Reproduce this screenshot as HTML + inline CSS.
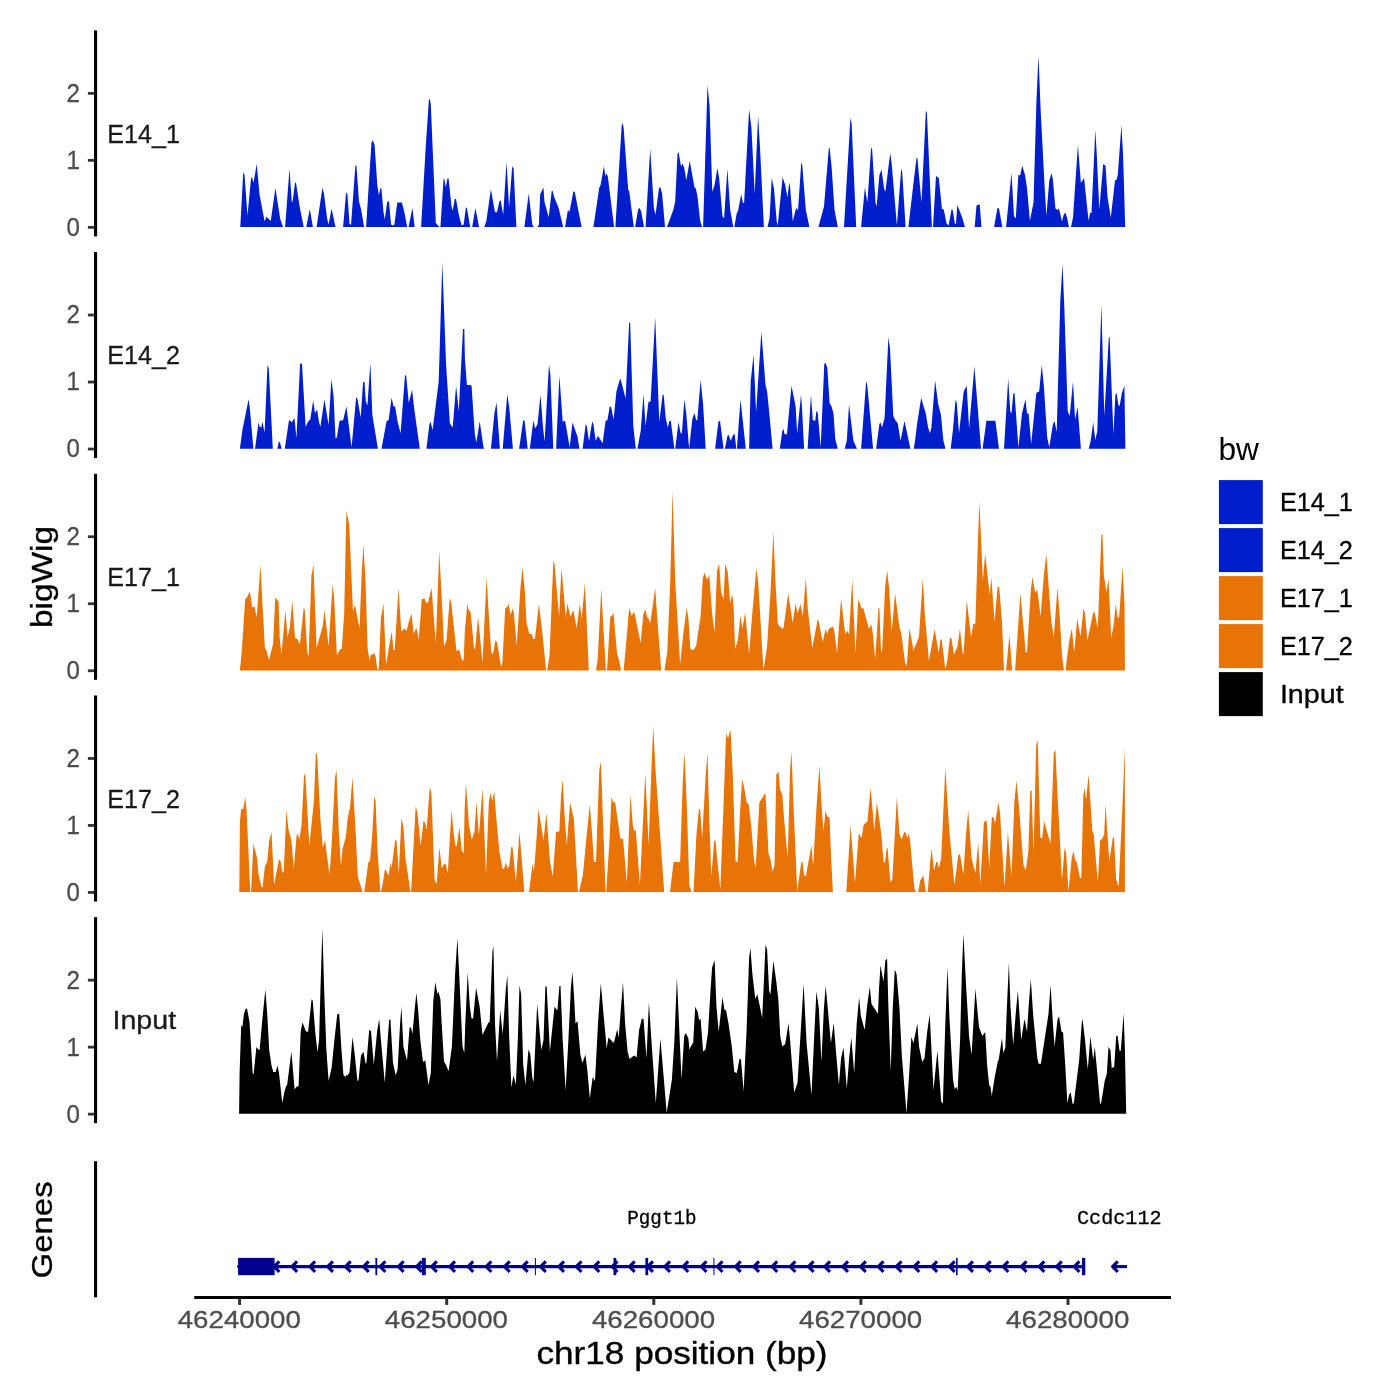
<!DOCTYPE html>
<html><head><meta charset="utf-8"><title>bigWig tracks</title>
<style>html,body{margin:0;padding:0;background:#fff;}svg{display:block;}text{font-family:"Liberation Sans",sans-serif;}.mono{font-family:"Liberation Mono",monospace;}</style>
</head><body>
<svg width="1400" height="1400" viewBox="0 0 1400 1400" style="filter:opacity(1)">
<rect x="0" y="0" width="1400" height="1400" fill="#ffffff"/>
<g id="track1">
<path d="M240.3,227.0 L240.3,227.0 L243.2,172.8 L244.5,174.5 L247.5,215.5 L251.1,177.8 L252.1,177.8 L253.4,182.7 L255.0,174.5 L256.7,163.8 L259.6,195.0 L264.6,221.3 L266.5,216.8 L270.8,221.0 L275.4,188.1 L280.2,218.8 L283.0,227.0 L285.1,227.0 L289.5,168.7 L291.7,200.8 L292.5,202.4 L295.1,182.2 L296.1,183.5 L299.9,208.1 L303.7,227.0 L306.3,227.0 L309.8,209.0 L312.9,227.0 L316.6,227.0 L322.4,188.1 L324.0,193.4 L327.0,218.0 L328.6,224.6 L331.6,208.5 L335.5,227.0 L343.1,227.0 L346.1,192.5 L347.4,194.2 L349.5,223.8 L351.0,224.9 L355.4,165.4 L356.4,165.4 L359.0,201.6 L361.2,209.8 L364.1,227.0 L366.1,227.0 L371.4,143.2 L372.7,140.0 L374.6,144.9 L377.3,185.1 L378.9,195.0 L380.6,187.6 L381.5,189.2 L383.4,211.4 L384.8,219.6 L387.1,202.4 L388.9,200.8 L391.1,224.6 L393.0,225.4 L394.4,224.6 L397.3,202.4 L401.9,202.4 L404.2,211.4 L407.2,227.0 L408.5,227.0 L412.4,208.1 L414.7,227.0 L421.1,227.0 L425.6,149.0 L428.9,99.7 L429.8,98.9 L430.8,104.6 L435.8,222.9 L438.7,226.2 L439.5,227.0 L440.4,227.0 L443.6,178.6 L444.5,179.4 L445.8,187.6 L447.4,178.6 L448.6,178.6 L451.5,206.5 L452.7,210.6 L454.8,199.1 L456.0,199.1 L458.8,214.7 L461.7,225.4 L463.7,224.6 L465.9,207.3 L466.9,208.1 L470.2,227.0 L472.2,227.0 L475.4,208.1 L479.1,227.0 L484.3,227.0 L486.3,221.3 L490.9,189.2 L495.0,212.2 L497.0,212.2 L499.4,201.6 L500.6,199.9 L503.2,214.7 L506.5,162.1 L509.1,207.3 L512.2,166.2 L513.6,168.7 L516.4,227.0 L524.4,227.0 L528.7,193.4 L532.3,224.6 L533.9,227.0 L537.5,227.0 L538.9,224.6 L540.2,194.2 L543.5,187.6 L544.4,201.6 L548.7,217.2 L551.7,190.9 L552.7,190.9 L554.0,196.6 L558.6,208.1 L563.2,227.0 L565.1,227.0 L567.8,210.6 L568.4,210.3 L569.4,212.2 L573.4,191.4 L574.7,191.7 L581.6,227.0 L593.4,227.0 L599.3,187.6 L600.6,185.1 L603.9,166.2 L605.4,176.1 L606.7,173.6 L607.9,176.9 L614.1,227.0 L615.4,227.0 L621.7,125.2 L622.5,123.0 L623.6,127.6 L628.2,190.1 L629.2,190.9 L633.8,227.0 L635.1,227.0 L638.1,209.8 L639.4,207.8 L641.2,211.4 L644.0,227.0 L645.6,227.0 L650.2,149.0 L653.9,208.1 L655.5,214.7 L659.1,187.6 L660.4,187.6 L662.1,193.4 L665.0,227.0 L667.0,227.0 L673.6,209.0 L675.2,201.6 L677.5,153.9 L678.5,151.8 L681.0,166.2 L682.6,163.5 L684.2,167.9 L686.4,180.2 L689.7,160.8 L694.5,187.6 L695.8,188.4 L697.5,196.6 L700.1,220.5 L702.2,227.0 L703.1,227.0 L707.5,84.9 L709.6,106.3 L712.3,191.7 L714.6,185.1 L717.4,167.9 L719.2,178.6 L722.5,216.4 L724.1,218.0 L727.4,168.7 L730.2,209.8 L733.3,227.0 L734.3,227.0 L736.8,213.1 L737.9,211.4 L741.2,194.2 L742.8,202.4 L744.1,203.2 L749.1,109.6 L751.4,127.6 L754.7,193.4 L758.1,116.1 L759.9,145.7 L763.9,227.0 L767.5,227.0 L769.6,218.0 L771.7,178.2 L774.0,188.4 L776.7,221.3 L777.7,225.4 L782.6,177.3 L785.2,185.1 L787.5,197.5 L789.2,182.7 L790.1,186.8 L792.8,221.3 L796.2,207.8 L798.0,210.6 L801.3,162.1 L802.3,165.4 L805.8,209.8 L809.4,227.0 L818.4,227.0 L820.0,221.3 L824.0,206.5 L828.8,148.2 L829.6,147.7 L831.5,165.4 L834.5,209.8 L837.8,227.0 L844.0,227.0 L850.4,118.6 L851.6,122.7 L856.2,227.0 L861.1,227.0 L864.9,187.6 L867.4,202.4 L871.1,147.7 L872.1,149.0 L875.6,203.2 L876.6,206.5 L879.4,175.3 L881.5,169.5 L884.1,188.4 L885.4,191.7 L890.2,153.1 L891.7,163.8 L896.9,225.4 L901.2,168.4 L902.2,172.0 L905.6,227.0 L908.4,227.0 L914.7,172.8 L916.6,157.5 L917.4,158.3 L921.5,202.6 L925.9,110.6 L926.9,113.1 L931.9,227.0 L933.0,227.0 L936.0,176.0 L938.8,178.0 L942.0,209.2 L943.7,209.2 L946.5,223.2 L948.6,225.6 L951.6,209.2 L952.7,210.0 L954.9,223.7 L956.0,223.7 L957.3,205.1 L962.2,217.4 L964.9,227.0 L974.7,227.0 L976.5,205.6 L979.7,204.3 L981.5,227.0 L994.1,227.0 L997.4,207.9 L999.0,208.4 L1002.3,227.0 L1006.1,227.0 L1011.5,173.1 L1014.0,216.6 L1015.8,218.2 L1018.4,174.7 L1020.1,175.5 L1022.2,165.7 L1025.0,174.7 L1027.0,187.9 L1029.9,220.7 L1033.5,202.6 L1036.5,99.1 L1038.5,55.6 L1040.6,109.0 L1044.7,187.9 L1046.4,215.8 L1049.3,180.5 L1051.6,173.1 L1052.9,179.6 L1055.4,208.4 L1057.5,210.0 L1058.5,208.4 L1059.8,211.7 L1062.0,221.5 L1063.6,215.0 L1065.4,212.5 L1067.4,219.1 L1068.9,227.0 L1071.0,227.0 L1073.0,217.4 L1077.9,145.1 L1080.9,182.9 L1084.1,178.0 L1086.1,197.7 L1088.6,220.7 L1090.2,212.5 L1091.5,213.3 L1095.3,130.0 L1096.8,155.0 L1099.3,209.2 L1103.2,164.0 L1105.5,165.7 L1107.6,197.7 L1110.8,217.4 L1115.0,180.5 L1116.7,179.6 L1117.8,174.7 L1121.4,125.4 L1123.1,155.0 L1125.2,227.0 L1125.2,227.0Z" fill="#001ECC" stroke="none"/>
<line x1="95.55" y1="30.4" x2="95.55" y2="236.4" stroke="#000" stroke-width="3.1"/>
<line x1="87.9" y1="227.35" x2="94.2" y2="227.35" stroke="#333" stroke-width="2.8"/>
<text x="79.8" y="235.70" font-size="24.9" fill="#4D4D4D" stroke="#4D4D4D" stroke-width="0.3" text-anchor="end" textLength="13.4" lengthAdjust="spacingAndGlyphs">0</text>
<line x1="87.9" y1="160.35" x2="94.2" y2="160.35" stroke="#333" stroke-width="2.8"/>
<text x="79.8" y="168.70" font-size="24.9" fill="#4D4D4D" stroke="#4D4D4D" stroke-width="0.3" text-anchor="end" textLength="13.4" lengthAdjust="spacingAndGlyphs">1</text>
<line x1="87.9" y1="93.35" x2="94.2" y2="93.35" stroke="#333" stroke-width="2.8"/>
<text x="79.8" y="101.70" font-size="24.9" fill="#4D4D4D" stroke="#4D4D4D" stroke-width="0.3" text-anchor="end" textLength="13.4" lengthAdjust="spacingAndGlyphs">2</text>
<text x="143.55" y="142.7" font-size="25.0" fill="#1A1A1A" stroke="#1A1A1A" stroke-width="0.3" text-anchor="middle" textLength="72.6" lengthAdjust="spacingAndGlyphs">E14_1</text>
</g>
<g id="track2">
<path d="M239.9,448.7 L239.9,448.7 L242.4,430.0 L248.6,399.3 L249.8,407.9 L253.4,448.7 L255.0,448.7 L258.5,422.6 L259.6,426.8 L261.3,427.2 L262.4,421.8 L264.6,432.5 L267.5,365.1 L268.8,368.4 L272.8,448.7 L277.4,448.7 L278.7,442.0 L279.7,442.0 L281.8,448.7 L284.8,448.7 L288.9,420.7 L289.9,420.2 L291.7,422.6 L294.5,418.0 L296.4,438.2 L300.1,363.5 L302.0,363.8 L305.6,426.8 L308.6,420.7 L310.2,419.7 L313.2,400.5 L315.0,413.1 L317.1,409.5 L319.1,422.6 L320.4,426.8 L324.4,399.6 L328.6,425.1 L331.4,379.1 L333.6,396.4 L335.5,438.2 L336.9,437.4 L339.5,420.7 L343.1,420.2 L346.4,406.5 L351.6,447.3 L356.2,396.7 L357.6,399.6 L360.7,417.7 L363.1,381.9 L364.5,381.9 L365.8,401.3 L367.4,405.4 L370.4,362.7 L372.3,414.4 L377.9,448.7 L381.5,448.7 L386.6,421.0 L388.6,420.2 L391.6,397.7 L393.5,406.2 L395.2,406.7 L397.6,421.8 L400.6,433.3 L405.0,375.0 L406.2,375.8 L408.8,402.9 L412.1,389.8 L414.1,407.9 L419.8,448.7 L426.4,448.7 L429.4,424.3 L430.5,421.8 L432.6,430.0 L438.7,381.6 L442.3,262.5 L446.1,365.1 L449.9,423.5 L452.7,427.6 L456.1,385.7 L458.8,411.1 L463.0,329.0 L464.3,329.0 L464.9,358.6 L466.9,384.9 L471.5,385.2 L474.8,434.1 L476.4,442.4 L479.7,421.3 L483.5,447.3 L484.6,448.7 L490.9,448.7 L494.5,412.8 L496.5,402.6 L499.9,448.7 L502.7,448.7 L507.3,393.9 L509.3,407.9 L512.9,448.7 L519.1,448.7 L523.2,420.2 L524.6,420.7 L527.7,448.7 L529.8,448.7 L533.4,420.2 L535.1,428.4 L537.5,424.3 L540.5,394.7 L543.0,427.6 L544.6,441.5 L549.0,364.3 L550.4,375.0 L553.3,448.7 L556.1,448.7 L559.4,375.8 L562.7,421.8 L565.1,420.7 L569.7,447.3 L572.5,422.6 L577.5,436.6 L579.4,448.7 L582.6,448.7 L585.7,424.3 L586.8,425.9 L589.0,441.5 L592.2,421.3 L593.4,424.3 L595.7,440.7 L598.0,435.8 L602.6,443.2 L605.6,420.7 L607.4,420.2 L609.8,406.2 L611.1,407.0 L613.6,419.4 L616.4,391.4 L620.2,378.3 L622.6,386.5 L625.6,398.8 L629.2,322.1 L630.2,323.2 L633.3,425.9 L635.8,448.7 L637.4,448.7 L640.7,430.9 L643.5,393.9 L645.6,425.9 L648.4,402.3 L650.6,401.6 L655.2,317.2 L659.3,421.8 L662.6,394.7 L663.7,395.0 L665.7,417.7 L667.8,427.6 L669.5,420.7 L670.8,421.0 L674.4,448.7 L675.2,448.7 L678.5,422.3 L680.5,432.5 L681.8,434.1 L684.4,399.3 L686.4,414.4 L688.7,444.0 L689.1,448.7 L692.4,418.5 L694.5,413.1 L696.2,420.2 L697.3,420.2 L700.6,379.9 L703.1,404.6 L705.7,448.7 L715.1,448.7 L718.4,421.8 L720.0,420.7 L723.6,448.7 L724.9,448.7 L727.7,435.0 L728.7,435.0 L730.7,440.7 L733.1,435.0 L734.6,433.8 L736.3,448.7 L736.9,448.7 L740.5,399.6 L745.8,448.7 L749.1,448.7 L750.7,381.6 L753.5,355.0 L756.1,412.0 L761.4,331.5 L765.5,384.9 L767.1,391.4 L768.8,407.9 L772.6,448.7 L779.8,448.7 L782.3,430.9 L783.6,428.9 L784.4,434.1 L786.9,434.5 L791.5,385.7 L795.6,406.2 L797.2,433.3 L801.0,394.7 L802.0,407.9 L804.1,448.7 L807.6,448.7 L811.0,394.7 L812.8,420.2 L815.3,420.7 L816.4,410.8 L817.7,412.8 L820.7,447.3 L824.3,363.8 L825.5,363.0 L827.3,367.6 L829.6,402.9 L831.5,406.2 L833.5,413.6 L835.3,439.1 L837.8,448.7 L844.7,448.7 L846.8,440.7 L849.0,404.6 L853.4,440.7 L857.0,448.7 L861.1,448.7 L866.2,380.8 L867.4,386.5 L873.1,448.7 L876.1,448.7 L879.4,424.0 L880.5,422.6 L882.1,427.6 L884.6,417.7 L888.4,337.2 L890.0,348.7 L893.3,416.1 L895.3,420.2 L897.8,423.5 L900.5,440.7 L904.5,421.0 L910.4,448.7 L913.7,448.7 L914.8,442.4 L917.4,421.8 L921.2,397.7 L923.8,407.0 L925.8,413.6 L928.1,427.6 L930.0,433.3 L931.4,427.6 L935.1,380.4 L938.3,404.6 L940.9,414.4 L943.4,440.7 L945.5,448.7 L950.7,448.7 L953.0,429.2 L955.5,400.0 L956.8,402.9 L959.0,433.3 L963.7,391.4 L966.7,385.7 L969.1,428.4 L974.4,366.5 L981.0,448.7 L982.6,448.7 L986.4,420.7 L995.4,420.7 L999.0,448.7 L1004.0,448.7 L1008.2,378.6 L1010.2,411.1 L1011.5,413.6 L1013.2,393.9 L1014.5,392.7 L1018.4,447.3 L1022.0,413.6 L1025.5,399.3 L1027.0,413.6 L1028.6,413.6 L1031.2,444.0 L1036.2,393.9 L1037.3,391.9 L1039.1,391.8 L1041.8,365.1 L1043.9,386.5 L1047.2,437.4 L1049.3,447.3 L1052.9,424.3 L1054.6,421.3 L1056.7,431.7 L1060.3,301.1 L1062.5,264.1 L1064.4,309.3 L1067.7,411.1 L1069.7,416.1 L1073.0,381.6 L1075.1,419.4 L1077.6,407.0 L1080.9,448.7 L1088.7,448.7 L1090.7,440.7 L1093.2,422.6 L1095.3,439.9 L1097.3,430.9 L1101.4,304.4 L1104.3,416.1 L1108.8,338.0 L1109.6,336.4 L1113.4,434.1 L1115.4,394.7 L1116.5,392.7 L1118.3,404.6 L1119.6,406.2 L1121.9,393.1 L1124.4,385.7 L1125.4,448.7 L1125.4,448.7Z" fill="#001ECC" stroke="none"/>
<line x1="95.55" y1="252.1" x2="95.55" y2="458.1" stroke="#000" stroke-width="3.1"/>
<line x1="87.9" y1="449.05" x2="94.2" y2="449.05" stroke="#333" stroke-width="2.8"/>
<text x="79.8" y="457.40" font-size="24.9" fill="#4D4D4D" stroke="#4D4D4D" stroke-width="0.3" text-anchor="end" textLength="13.4" lengthAdjust="spacingAndGlyphs">0</text>
<line x1="87.9" y1="382.05" x2="94.2" y2="382.05" stroke="#333" stroke-width="2.8"/>
<text x="79.8" y="390.40" font-size="24.9" fill="#4D4D4D" stroke="#4D4D4D" stroke-width="0.3" text-anchor="end" textLength="13.4" lengthAdjust="spacingAndGlyphs">1</text>
<line x1="87.9" y1="315.05" x2="94.2" y2="315.05" stroke="#333" stroke-width="2.8"/>
<text x="79.8" y="323.40" font-size="24.9" fill="#4D4D4D" stroke="#4D4D4D" stroke-width="0.3" text-anchor="end" textLength="13.4" lengthAdjust="spacingAndGlyphs">2</text>
<text x="143.55" y="364.4" font-size="25.0" fill="#1A1A1A" stroke="#1A1A1A" stroke-width="0.3" text-anchor="middle" textLength="72.6" lengthAdjust="spacingAndGlyphs">E14_2</text>
</g>
<g id="track3">
<path d="M239.9,670.4 L239.9,670.4 L241.9,649.6 L245.2,599.0 L247.3,597.0 L249.5,591.7 L250.6,595.4 L252.2,607.7 L254.4,606.0 L256.7,617.5 L260.5,565.0 L262.1,597.0 L264.9,647.9 L266.5,650.4 L269.0,660.2 L273.1,643.8 L275.2,597.8 L278.5,601.6 L279.7,638.1 L281.5,654.5 L285.4,610.1 L287.6,637.2 L290.0,626.6 L292.2,600.3 L295.0,638.1 L297.4,638.9 L299.9,644.6 L303.7,607.7 L304.8,610.1 L307.3,652.9 L308.6,656.1 L311.4,575.6 L313.5,565.0 L316.6,647.9 L320.1,635.6 L322.6,626.6 L324.5,609.8 L328.6,646.3 L332.6,584.2 L334.1,597.0 L336.9,655.3 L340.1,649.6 L341.8,648.8 L344.2,613.4 L346.4,510.8 L349.2,524.7 L353.0,611.8 L354.9,604.4 L359.5,628.2 L361.8,570.7 L363.5,544.1 L365.6,583.9 L367.7,649.6 L369.7,661.1 L370.7,654.5 L372.3,654.8 L374.3,652.9 L375.5,656.1 L377.3,669.3 L378.8,669.3 L380.9,618.4 L383.4,603.2 L386.1,664.4 L391.6,631.5 L393.5,649.6 L394.7,650.4 L398.5,588.0 L401.3,631.5 L404.5,628.5 L406.7,630.7 L408.6,622.5 L411.6,613.4 L413.7,634.0 L415.7,629.0 L416.7,628.5 L418.7,639.7 L421.8,599.0 L424.8,599.0 L426.1,602.8 L428.0,602.8 L431.6,588.0 L435.8,643.8 L439.2,550.7 L441.7,597.0 L444.1,646.3 L446.6,639.7 L449.7,598.6 L451.2,601.9 L456.5,651.2 L459.2,649.6 L462.0,660.2 L463.7,660.2 L464.9,629.9 L467.4,603.2 L468.5,609.3 L470.7,612.6 L474.0,647.9 L475.1,649.6 L478.1,616.4 L482.5,662.7 L486.6,577.0 L488.3,606.9 L491.2,652.0 L492.9,654.2 L495.5,640.5 L497.1,642.2 L501.1,666.8 L502.4,662.7 L505.2,608.2 L507.3,606.9 L508.6,603.6 L510.6,615.1 L512.6,608.2 L513.9,613.4 L516.7,645.5 L520.5,587.1 L522.6,567.4 L524.9,592.1 L526.5,622.5 L529.3,634.0 L531.6,634.0 L533.4,638.9 L534.9,638.9 L538.9,603.9 L542.1,629.9 L546.1,670.4 L547.1,670.4 L549.5,656.1 L553.3,561.2 L554.5,564.1 L559.1,616.7 L561.4,568.2 L563.2,587.1 L565.8,617.5 L567.4,603.6 L570.4,616.7 L573.4,610.1 L576.6,628.2 L579.9,603.6 L581.6,619.2 L584.9,583.0 L586.5,616.7 L588.8,670.4 L596.0,670.4 L597.7,659.4 L601.3,588.5 L602.9,618.4 L605.9,670.4 L607.0,670.4 L610.3,616.4 L612.0,615.9 L613.4,612.6 L617.1,653.7 L619.0,659.4 L621.0,670.4 L623.6,670.4 L625.9,646.3 L629.2,607.7 L631.7,615.9 L633.5,612.6 L634.6,613.4 L640.7,643.0 L643.2,615.1 L645.3,609.3 L647.3,617.5 L648.6,618.4 L650.2,623.6 L655.2,588.0 L656.5,606.9 L661.2,670.4 L664.5,670.4 L667.3,651.2 L670.3,580.6 L672.6,490.2 L675.2,580.6 L680.1,664.4 L683.4,633.1 L686.7,607.7 L688.4,618.4 L689.7,638.1 L690.3,648.8 L692.4,649.9 L694.0,649.6 L696.2,645.5 L699.0,626.6 L700.6,616.7 L702.7,578.9 L704.4,572.7 L707.2,579.8 L709.3,574.8 L712.1,613.4 L714.6,632.3 L717.0,570.7 L719.2,563.8 L721.1,592.1 L723.6,599.5 L725.2,564.1 L727.7,571.5 L730.2,603.6 L732.3,593.7 L733.6,606.9 L735.1,649.6 L737.9,639.7 L740.4,615.4 L742.5,628.2 L745.1,612.6 L749.1,653.7 L752.0,616.7 L756.3,568.2 L758.1,580.6 L763.5,670.3 L767.1,646.3 L770.4,593.7 L773.4,532.1 L775.4,580.6 L777.8,623.3 L779.5,626.9 L780.6,626.6 L781.9,629.0 L783.6,627.4 L788.2,593.4 L791.0,611.8 L792.6,623.0 L795.7,603.2 L797.5,613.4 L800.5,603.9 L802.8,615.9 L805.8,578.1 L807.9,610.1 L812.3,647.9 L817.7,619.2 L818.9,621.6 L822.7,642.2 L825.6,629.0 L827.3,634.0 L828.8,629.0 L832.9,626.6 L834.2,629.9 L837.0,652.9 L841.1,598.6 L845.2,634.0 L847.6,630.7 L849.0,634.8 L852.2,578.9 L853.7,613.4 L855.5,652.9 L858.3,599.0 L861.6,608.5 L863.4,608.2 L869.0,629.0 L871.1,624.1 L872.8,633.1 L875.2,659.4 L878.5,607.7 L879.4,608.5 L881.0,651.2 L882.1,651.2 L885.1,587.1 L887.2,570.4 L889.2,588.8 L891.7,631.5 L895.1,593.4 L899.4,626.6 L901.5,634.8 L905.1,662.7 L906.8,666.0 L909.4,628.2 L913.7,651.2 L914.3,647.9 L916.6,643.0 L919.0,636.4 L922.8,578.1 L924.8,613.4 L928.9,661.1 L934.6,629.0 L938.8,652.9 L940.4,639.4 L941.7,639.4 L945.3,669.3 L947.0,662.7 L949.9,638.1 L951.4,638.1 L954.0,654.5 L957.6,646.3 L959.9,628.7 L962.6,652.9 L963.6,654.5 L966.8,600.6 L971.1,637.2 L973.2,624.1 L975.4,623.6 L977.7,547.7 L979.3,501.7 L981.5,547.7 L982.8,580.6 L985.2,553.5 L989.7,595.4 L991.3,577.3 L994.6,621.6 L997.6,587.1 L999.2,587.1 L1002.0,621.6 L1004.0,670.4 L1006.1,670.4 L1009.4,634.8 L1012.2,670.4 L1015.1,670.4 L1020.4,592.9 L1025.8,652.9 L1027.0,651.2 L1030.8,590.4 L1032.4,577.0 L1035.2,592.9 L1037.3,589.6 L1040.6,616.7 L1043.9,574.0 L1046.4,554.3 L1048.8,588.8 L1051.3,621.6 L1053.8,637.2 L1057.5,587.1 L1059.5,613.4 L1062.0,654.5 L1063.9,670.4 L1065.4,670.4 L1069.4,639.7 L1071.8,628.7 L1074.3,652.0 L1077.2,618.4 L1080.5,636.4 L1083.5,608.2 L1085.0,613.4 L1087.4,640.5 L1093.5,611.5 L1094.8,613.4 L1097.8,628.2 L1101.4,534.6 L1102.5,534.9 L1103.9,575.6 L1106.5,592.1 L1108.5,578.9 L1111.2,638.1 L1113.7,624.9 L1115.7,603.9 L1117.7,617.5 L1119.1,617.5 L1122.6,566.6 L1124.6,606.9 L1124.9,670.4 L1124.9,670.4Z" fill="#E87306" stroke="none"/>
<line x1="95.55" y1="473.8" x2="95.55" y2="679.8" stroke="#000" stroke-width="3.1"/>
<line x1="87.9" y1="670.75" x2="94.2" y2="670.75" stroke="#333" stroke-width="2.8"/>
<text x="79.8" y="679.10" font-size="24.9" fill="#4D4D4D" stroke="#4D4D4D" stroke-width="0.3" text-anchor="end" textLength="13.4" lengthAdjust="spacingAndGlyphs">0</text>
<line x1="87.9" y1="603.75" x2="94.2" y2="603.75" stroke="#333" stroke-width="2.8"/>
<text x="79.8" y="612.10" font-size="24.9" fill="#4D4D4D" stroke="#4D4D4D" stroke-width="0.3" text-anchor="end" textLength="13.4" lengthAdjust="spacingAndGlyphs">1</text>
<line x1="87.9" y1="536.75" x2="94.2" y2="536.75" stroke="#333" stroke-width="2.8"/>
<text x="79.8" y="545.10" font-size="24.9" fill="#4D4D4D" stroke="#4D4D4D" stroke-width="0.3" text-anchor="end" textLength="13.4" lengthAdjust="spacingAndGlyphs">2</text>
<text x="143.55" y="586.1" font-size="25.0" fill="#1A1A1A" stroke="#1A1A1A" stroke-width="0.3" text-anchor="middle" textLength="72.6" lengthAdjust="spacingAndGlyphs">E17_1</text>
</g>
<g id="track4">
<path d="M239.3,892.1 L239.3,892.1 L239.9,822.3 L241.2,809.1 L243.2,809.1 L245.3,797.3 L246.5,809.1 L250.3,892.1 L251.1,892.1 L253.4,843.6 L257.2,858.4 L258.3,873.2 L261.6,887.2 L262.6,887.2 L264.9,866.6 L267.2,861.7 L269.2,840.4 L271.5,832.1 L274.1,884.7 L279.0,859.2 L280.7,861.4 L282.6,873.2 L283.8,871.6 L286.4,810.0 L288.4,828.9 L291.4,840.4 L293.8,868.3 L296.6,835.4 L297.8,834.1 L299.4,839.5 L301.5,825.6 L304.0,776.3 L305.3,773.0 L309.3,846.1 L310.9,830.5 L313.9,800.9 L315.8,754.1 L317.1,754.1 L320.4,819.0 L322.9,847.8 L325.0,840.0 L329.5,874.9 L331.9,840.4 L334.9,777.9 L336.5,770.0 L338.8,832.1 L341.0,865.8 L342.6,848.6 L345.9,837.1 L347.5,819.0 L350.0,807.5 L352.5,777.1 L355.8,835.4 L357.9,876.5 L362.5,892.1 L364.3,892.1 L368.4,862.0 L370.0,860.9 L372.2,835.4 L374.3,796.0 L375.6,800.9 L377.6,851.9 L380.4,892.1 L380.9,892.1 L382.5,884.7 L384.8,869.9 L386.1,870.3 L388.6,875.7 L390.4,862.5 L391.6,868.3 L395.2,840.0 L396.5,840.4 L398.8,873.2 L401.4,818.2 L403.4,826.4 L405.5,858.4 L410.5,892.1 L411.1,892.1 L413.2,851.9 L415.7,805.9 L417.4,812.4 L420.6,845.6 L423.6,820.6 L425.2,823.1 L426.6,829.7 L429.7,787.8 L431.3,791.9 L434.6,879.8 L436.7,883.9 L439.4,846.9 L441.7,868.3 L444.5,863.4 L445.8,864.2 L447.8,873.2 L451.5,810.0 L453.5,832.1 L455.5,846.1 L456.8,846.1 L459.4,826.9 L461.7,850.2 L463.7,853.5 L464.6,810.8 L465.9,782.9 L469.0,825.6 L471.8,839.5 L474.5,832.1 L476.4,801.8 L478.9,835.4 L482.5,788.6 L483.8,819.0 L486.0,874.9 L488.8,802.6 L490.4,792.7 L492.4,800.9 L494.2,791.1 L496.1,815.7 L499.4,851.9 L502.7,869.1 L504.0,869.1 L505.7,862.5 L507.6,868.3 L509.3,865.8 L511.3,846.9 L512.6,847.3 L515.9,882.2 L519.5,832.1 L524.4,892.1 L529.0,892.1 L532.6,863.4 L533.9,871.6 L536.4,840.4 L538.5,809.1 L543.5,840.4 L546.4,813.2 L550.0,861.7 L552.8,876.5 L556.1,832.1 L559.4,831.3 L561.0,796.0 L562.7,779.2 L564.3,810.8 L566.8,845.3 L570.1,802.6 L573.9,819.0 L578.0,892.1 L578.9,892.1 L582.9,874.9 L587.3,828.9 L589.8,804.5 L592.2,835.4 L593.9,861.7 L596.0,861.7 L599.3,769.7 L601.0,761.5 L602.9,819.0 L605.6,892.1 L606.2,892.1 L609.5,840.4 L611.5,796.8 L613.1,802.2 L615.2,802.2 L620.2,837.9 L621.8,839.5 L623.0,837.9 L626.8,883.1 L630.5,794.4 L632.8,825.6 L634.5,831.3 L635.8,829.7 L639.9,884.7 L645.3,773.0 L648.6,845.3 L651.4,769.7 L653.2,726.2 L655.5,769.7 L664.2,892.1 L670.0,892.1 L673.6,862.0 L680.1,862.0 L682.6,786.1 L684.4,751.6 L686.7,802.6 L689.3,884.7 L691.6,892.1 L693.5,892.1 L696.5,833.8 L699.0,809.1 L700.1,809.1 L702.2,837.9 L705.5,777.9 L707.5,752.5 L709.3,819.0 L711.3,876.5 L714.2,840.7 L715.4,840.4 L720.3,889.6 L723.6,802.6 L726.1,733.6 L728.0,738.5 L730.5,729.5 L732.6,769.7 L735.6,861.7 L737.6,861.7 L740.4,805.9 L742.2,779.2 L744.6,789.4 L746.6,802.2 L748.7,804.2 L751.2,825.6 L754.0,860.1 L755.6,868.3 L759.4,802.2 L765.5,793.0 L768.5,853.5 L770.4,859.2 L772.6,871.6 L774.5,865.0 L776.3,774.6 L778.6,771.7 L780.0,789.4 L782.3,794.4 L784.1,819.0 L787.7,858.4 L790.1,769.7 L791.5,750.8 L793.4,802.6 L797.2,891.3 L801.3,862.0 L802.5,862.0 L804.1,874.9 L805.8,876.5 L811.5,845.3 L813.1,866.6 L816.4,809.1 L819.4,765.6 L821.4,802.6 L823.5,831.3 L825.5,810.5 L827.1,816.5 L829.6,817.4 L831.2,860.1 L832.9,892.1 L846.3,892.1 L850.6,825.2 L855.0,883.1 L858.8,833.0 L860.0,835.4 L861.6,837.9 L863.7,824.8 L867.4,821.5 L870.6,787.8 L874.3,829.7 L876.9,802.6 L881.3,833.8 L883.5,861.7 L885.1,862.5 L886.7,847.8 L887.6,848.6 L890.4,882.2 L892.3,879.8 L896.9,796.8 L899.4,833.8 L901.5,839.5 L904.3,832.1 L906.0,833.0 L907.1,838.7 L908.4,833.0 L910.1,840.4 L912.5,868.3 L914.5,888.8 L915.9,892.1 L918.2,892.1 L920.2,880.6 L923.5,875.7 L925.9,892.1 L927.7,892.1 L931.4,848.2 L934.1,869.9 L936.3,862.0 L937.6,862.0 L938.8,868.3 L941.2,858.4 L945.3,768.1 L949.4,832.1 L954.4,884.7 L958.5,854.3 L960.1,854.8 L963.4,874.9 L965.9,835.4 L968.2,810.0 L971.6,858.4 L975.4,873.2 L978.2,842.0 L980.3,884.7 L983.9,822.3 L986.7,820.3 L989.2,868.3 L991.8,817.4 L993.5,817.0 L995.1,823.6 L998.4,802.2 L1000.0,812.4 L1004.5,887.2 L1007.9,832.1 L1011.5,876.5 L1014.3,802.6 L1016.5,780.4 L1019.2,809.1 L1023.4,865.0 L1025.8,869.9 L1028.3,851.9 L1030.3,791.1 L1031.6,790.2 L1033.5,851.9 L1036.2,745.1 L1037.7,740.1 L1040.3,837.9 L1042.2,837.9 L1044.2,821.0 L1047.2,832.1 L1050.5,843.6 L1053.8,753.3 L1055.4,749.7 L1057.9,802.6 L1062.0,879.8 L1064.6,848.2 L1066.1,851.9 L1068.5,891.3 L1071.8,857.6 L1073.5,851.0 L1075.1,860.1 L1076.8,862.0 L1080.0,878.1 L1081.3,878.1 L1083.3,796.0 L1084.6,787.8 L1086.1,800.1 L1088.6,774.6 L1092.4,831.3 L1093.7,833.8 L1097.8,882.2 L1100.1,840.4 L1102.2,838.7 L1104.2,834.6 L1105.5,804.2 L1109.3,861.7 L1112.9,837.1 L1114.0,837.9 L1116.2,879.8 L1118.6,886.4 L1121.9,819.0 L1124.9,747.5 L1124.9,892.1Z" fill="#E87306" stroke="none"/>
<line x1="95.55" y1="695.5" x2="95.55" y2="901.5" stroke="#000" stroke-width="3.1"/>
<line x1="87.9" y1="892.45" x2="94.2" y2="892.45" stroke="#333" stroke-width="2.8"/>
<text x="79.8" y="900.80" font-size="24.9" fill="#4D4D4D" stroke="#4D4D4D" stroke-width="0.3" text-anchor="end" textLength="13.4" lengthAdjust="spacingAndGlyphs">0</text>
<line x1="87.9" y1="825.45" x2="94.2" y2="825.45" stroke="#333" stroke-width="2.8"/>
<text x="79.8" y="833.80" font-size="24.9" fill="#4D4D4D" stroke="#4D4D4D" stroke-width="0.3" text-anchor="end" textLength="13.4" lengthAdjust="spacingAndGlyphs">1</text>
<line x1="87.9" y1="758.45" x2="94.2" y2="758.45" stroke="#333" stroke-width="2.8"/>
<text x="79.8" y="766.80" font-size="24.9" fill="#4D4D4D" stroke="#4D4D4D" stroke-width="0.3" text-anchor="end" textLength="13.4" lengthAdjust="spacingAndGlyphs">2</text>
<text x="143.55" y="807.8" font-size="25.0" fill="#1A1A1A" stroke="#1A1A1A" stroke-width="0.3" text-anchor="middle" textLength="72.6" lengthAdjust="spacingAndGlyphs">E17_2</text>
</g>
<g id="track5">
<path d="M239.1,1113.8 L239.1,1113.8 L239.6,1072.9 L241.2,1025.2 L242.4,1026.9 L244.0,1013.7 L245.7,1008.8 L247.0,1008.5 L249.5,1021.9 L252.7,1072.9 L253.6,1074.5 L256.4,1046.9 L258.3,1049.5 L259.6,1049.9 L262.9,1013.7 L265.4,989.4 L267.4,1017.0 L269.2,1049.9 L271.5,1065.5 L273.3,1072.0 L275.7,1072.0 L277.4,1065.5 L279.0,1072.9 L282.3,1103.2 L284.3,1092.6 L285.9,1086.8 L287.2,1084.4 L291.4,1051.5 L294.6,1089.3 L296.6,1086.8 L298.6,1086.0 L300.7,1031.8 L302.4,1022.3 L306.0,1031.5 L308.1,1031.8 L311.6,999.3 L312.7,1000.6 L315.2,1031.8 L317.5,1052.3 L319.1,1040.0 L320.4,990.7 L322.4,928.3 L324.2,990.7 L326.3,1048.2 L328.6,1081.1 L331.6,1067.9 L334.4,1040.0 L337.2,1014.5 L339.2,1013.4 L341.5,1049.9 L343.4,1074.8 L345.4,1077.0 L346.7,1074.8 L347.5,1075.8 L349.5,1072.0 L350.5,1061.4 L352.5,1037.0 L354.6,1053.1 L357.4,1081.1 L358.5,1080.2 L361.0,1055.6 L363.5,1051.8 L365.6,1063.8 L366.4,1063.0 L369.2,1030.1 L371.0,1031.0 L373.8,1064.6 L377.3,1030.1 L379.2,1019.0 L381.2,1043.3 L384.8,1082.7 L387.0,1049.9 L389.1,1020.3 L390.4,1019.0 L393.0,1063.0 L395.7,1075.3 L397.6,1069.6 L400.1,1023.6 L401.4,1006.8 L403.4,1046.6 L407.0,1060.5 L409.6,1027.2 L411.1,1027.7 L412.4,1034.2 L414.9,1007.1 L416.4,992.7 L418.2,1010.4 L420.3,1040.0 L422.8,1060.5 L423.9,1062.2 L425.2,1059.7 L428.5,1085.2 L430.8,1072.9 L433.3,1000.6 L435.4,982.2 L437.4,994.0 L438.4,991.5 L440.4,998.9 L441.7,1023.6 L444.0,1061.4 L445.8,1064.6 L448.6,1071.2 L451.9,1046.6 L455.1,974.3 L457.4,938.1 L459.2,974.3 L462.5,1046.6 L464.3,1053.1 L465.3,1023.6 L467.7,972.6 L469.9,1007.1 L471.5,1018.6 L473.1,1018.6 L476.1,987.8 L479.7,1007.1 L482.5,1035.1 L488.3,1022.8 L489.7,1021.9 L492.4,952.1 L493.4,945.5 L495.0,1023.6 L497.0,1061.4 L500.2,1010.4 L502.7,1034.2 L505.7,990.7 L507.3,975.1 L509.3,1040.0 L511.4,1087.6 L513.4,1075.3 L515.9,1084.4 L517.8,1040.0 L519.5,985.5 L521.1,994.0 L523.2,1064.6 L525.4,1085.2 L528.5,1049.5 L530.3,1054.0 L532.3,1077.8 L533.6,1081.9 L537.2,1003.9 L541.3,1049.9 L543.5,1040.0 L545.4,986.6 L546.7,986.6 L549.9,1051.5 L554.5,1006.8 L557.4,1010.4 L559.4,986.1 L560.5,986.1 L562.7,1040.0 L565.6,1090.1 L568.4,1040.0 L570.9,987.4 L572.4,971.8 L574.2,998.9 L575.5,1023.6 L577.5,1021.1 L580.4,1054.8 L582.4,1063.0 L585.4,1054.8 L587.3,1069.6 L589.8,1098.3 L592.7,1077.0 L595.0,1081.1 L598.0,1023.6 L600.8,983.3 L602.9,1007.1 L606.7,1048.2 L608.4,1037.5 L613.9,1043.0 L617.2,1029.3 L618.7,1037.5 L621.0,1007.1 L623.0,982.5 L625.1,1023.6 L627.6,1051.5 L629.5,1058.9 L634.1,1055.6 L636.6,1057.2 L639.1,1030.1 L641.9,1018.6 L643.5,1019.0 L646.5,1058.1 L648.9,1002.2 L651.4,1040.0 L655.8,1103.2 L660.4,1038.4 L666.7,1112.8 L671.9,1079.4 L674.4,1040.0 L676.9,977.2 L679.0,1023.6 L681.5,1079.4 L684.2,1035.9 L685.9,1033.1 L688.4,1038.4 L689.5,1049.9 L690.3,1047.4 L693.2,1042.5 L695.2,1006.8 L697.8,1012.1 L699.0,1020.0 L700.6,1019.0 L703.1,1051.5 L705.5,1049.5 L708.0,1032.6 L710.5,990.7 L712.1,967.4 L714.6,960.3 L716.5,1007.1 L718.7,1031.8 L722.5,997.3 L724.4,1009.6 L726.1,1010.4 L728.5,1023.6 L731.8,1046.6 L734.3,1072.0 L736.8,1072.9 L739.5,1058.9 L740.9,1058.9 L743.6,1090.9 L746.6,1030.1 L749.1,957.9 L750.4,947.7 L752.4,974.3 L755.3,998.9 L757.3,994.0 L762.2,1017.8 L764.2,974.3 L765.5,944.7 L767.1,949.6 L769.1,990.7 L770.4,994.8 L773.4,960.8 L776.2,980.9 L778.3,998.9 L780.3,1036.7 L782.3,1046.6 L785.2,1044.1 L788.5,1023.2 L790.1,1040.0 L794.2,1092.6 L797.5,1082.7 L800.8,1030.1 L803.6,983.8 L806.6,1043.3 L811.5,1095.0 L814.0,1040.0 L816.4,991.5 L818.9,1008.8 L821.4,1061.4 L823.8,1010.4 L825.6,986.1 L827.4,1003.9 L830.9,1043.3 L833.7,1022.8 L836.1,1053.1 L838.9,1085.2 L841.1,1058.1 L843.5,1047.4 L846.8,1088.5 L849.3,1056.4 L851.3,1037.5 L854.2,1072.9 L856.7,1023.6 L859.1,997.3 L860.8,1015.4 L864.6,1030.1 L867.0,1007.1 L869.8,986.6 L871.5,1003.9 L878.0,1013.7 L878.9,990.7 L880.5,965.2 L883.5,981.7 L885.4,960.3 L887.1,958.7 L888.4,1007.1 L890.7,1071.2 L892.8,1007.1 L894.8,969.4 L896.6,974.3 L899.4,1007.1 L901.9,1056.4 L906.5,1113.3 L909.2,1072.9 L911.4,1036.7 L913.4,1043.3 L914.5,1037.5 L917.4,1023.6 L919.0,1046.6 L922.3,1062.2 L924.5,1058.1 L927.2,1031.8 L929.7,1014.5 L933.5,1090.1 L937.4,1050.7 L941.2,1101.6 L942.9,1103.2 L945.3,1023.6 L947.5,966.9 L949.4,1017.0 L953.0,1079.4 L954.7,1089.3 L956.5,1086.8 L957.6,1090.9 L960.1,1040.0 L961.8,974.3 L963.4,934.0 L965.9,982.5 L969.1,1036.7 L971.6,1054.8 L975.4,988.7 L979.0,1026.9 L982.3,1035.9 L985.2,1032.1 L987.2,1066.3 L989.2,1085.2 L990.5,1086.8 L991.8,1095.9 L994.6,1077.8 L997.9,1061.0 L998.7,1059.7 L1002.0,1038.0 L1003.3,1053.1 L1005.3,1047.4 L1006.9,1007.1 L1008.9,962.8 L1010.5,1007.1 L1013.2,1044.9 L1016.0,1010.4 L1017.9,990.7 L1021.2,1040.0 L1024.5,1019.0 L1027.0,1031.8 L1028.6,1007.1 L1030.8,978.9 L1033.2,1015.4 L1037.3,1058.1 L1038.6,1063.8 L1040.9,1063.8 L1046.4,1027.7 L1048.5,1013.7 L1050.6,985.0 L1052.9,1023.6 L1054.6,1046.6 L1057.4,1020.3 L1059.0,1016.2 L1061.5,1031.8 L1063.1,1032.6 L1065.2,1064.6 L1067.4,1103.2 L1069.0,1095.0 L1070.7,1092.2 L1072.6,1104.1 L1073.8,1103.2 L1079.2,1059.7 L1081.7,1023.6 L1082.5,1018.6 L1085.0,1040.0 L1087.8,1069.6 L1090.4,1036.4 L1093.2,1059.7 L1094.8,1046.9 L1097.3,1072.9 L1100.1,1104.1 L1101.1,1103.2 L1104.7,1081.1 L1106.8,1073.7 L1108.5,1046.9 L1110.4,1049.9 L1111.7,1067.9 L1114.2,1067.1 L1116.2,1035.9 L1117.5,1035.4 L1119.5,1050.7 L1120.8,1050.7 L1123.6,1013.7 L1124.9,1048.2 L1126.2,1113.8 L1126.2,1113.8Z" fill="#000000" stroke="none"/>
<line x1="95.55" y1="917.2" x2="95.55" y2="1123.2" stroke="#000" stroke-width="3.1"/>
<line x1="87.9" y1="1114.15" x2="94.2" y2="1114.15" stroke="#333" stroke-width="2.8"/>
<text x="79.8" y="1122.50" font-size="24.9" fill="#4D4D4D" stroke="#4D4D4D" stroke-width="0.3" text-anchor="end" textLength="13.4" lengthAdjust="spacingAndGlyphs">0</text>
<line x1="87.9" y1="1047.15" x2="94.2" y2="1047.15" stroke="#333" stroke-width="2.8"/>
<text x="79.8" y="1055.50" font-size="24.9" fill="#4D4D4D" stroke="#4D4D4D" stroke-width="0.3" text-anchor="end" textLength="13.4" lengthAdjust="spacingAndGlyphs">1</text>
<line x1="87.9" y1="980.15" x2="94.2" y2="980.15" stroke="#333" stroke-width="2.8"/>
<text x="79.8" y="988.50" font-size="24.9" fill="#4D4D4D" stroke="#4D4D4D" stroke-width="0.3" text-anchor="end" textLength="13.4" lengthAdjust="spacingAndGlyphs">2</text>
<text x="144.3" y="1028.5" font-size="25.0" fill="#1A1A1A" stroke="#1A1A1A" stroke-width="0.3" text-anchor="middle" textLength="63.7" lengthAdjust="spacingAndGlyphs">Input</text>
</g>
<text transform="translate(52.1,577.0) rotate(-90)" font-size="30.0" fill="#000" stroke="#000" stroke-width="0.35" text-anchor="middle" textLength="102" lengthAdjust="spacingAndGlyphs">bigWig</text>
<text transform="translate(51.9,1229.9) rotate(-90)" font-size="30.2" fill="#000" stroke="#000" stroke-width="0.35" text-anchor="middle" textLength="97" lengthAdjust="spacingAndGlyphs">Genes</text>
<line x1="95.55" y1="1161.2" x2="95.55" y2="1297.4" stroke="#000" stroke-width="3.1"/>
<line x1="194.3" y1="1297.5" x2="1171" y2="1297.5" stroke="#000" stroke-width="3"/>
<line x1="239.6" y1="1298.5" x2="239.6" y2="1304.9" stroke="#333" stroke-width="3"/>
<text x="239.29999999999998" y="1328.4" font-size="24.8" fill="#4D4D4D" stroke="#4D4D4D" stroke-width="0.3" text-anchor="middle" textLength="123.2" lengthAdjust="spacingAndGlyphs">46240000</text>
<line x1="446.7" y1="1298.5" x2="446.7" y2="1304.9" stroke="#333" stroke-width="3"/>
<text x="446.4" y="1328.4" font-size="24.8" fill="#4D4D4D" stroke="#4D4D4D" stroke-width="0.3" text-anchor="middle" textLength="123.2" lengthAdjust="spacingAndGlyphs">46250000</text>
<line x1="653.8" y1="1298.5" x2="653.8" y2="1304.9" stroke="#333" stroke-width="3"/>
<text x="653.5" y="1328.4" font-size="24.8" fill="#4D4D4D" stroke="#4D4D4D" stroke-width="0.3" text-anchor="middle" textLength="123.2" lengthAdjust="spacingAndGlyphs">46260000</text>
<line x1="860.9" y1="1298.5" x2="860.9" y2="1304.9" stroke="#333" stroke-width="3"/>
<text x="860.6" y="1328.4" font-size="24.8" fill="#4D4D4D" stroke="#4D4D4D" stroke-width="0.3" text-anchor="middle" textLength="123.2" lengthAdjust="spacingAndGlyphs">46270000</text>
<line x1="1068.0" y1="1298.5" x2="1068.0" y2="1304.9" stroke="#333" stroke-width="3"/>
<text x="1067.7" y="1328.4" font-size="24.8" fill="#4D4D4D" stroke="#4D4D4D" stroke-width="0.3" text-anchor="middle" textLength="123.2" lengthAdjust="spacingAndGlyphs">46280000</text>
<text x="682" y="1363.5" font-size="30.5" fill="#000" stroke="#000" stroke-width="0.35" text-anchor="middle" textLength="291" lengthAdjust="spacingAndGlyphs">chr18 position (bp)</text>
<g stroke="#00008B" fill="none" stroke-width="3.1" stroke-linejoin="round">
<line x1="238" y1="1266.6" x2="1084" y2="1266.6"/>
<line x1="1112.6" y1="1266.6" x2="1127" y2="1266.6"/>
<polyline points="279.3,1261.4 274.1,1266.6 279.3,1271.8"/>
<polyline points="297.1,1261.4 291.9,1266.6 297.1,1271.8"/>
<polyline points="315.1,1261.4 309.9,1266.6 315.1,1271.8"/>
<polyline points="332.9,1261.4 327.7,1266.6 332.9,1271.8"/>
<polyline points="350.7,1261.4 345.5,1266.6 350.7,1271.8"/>
<polyline points="368.7,1261.4 363.5,1266.6 368.7,1271.8"/>
<polyline points="385.4,1261.4 380.2,1266.6 385.4,1271.8"/>
<polyline points="403.6,1261.4 398.4,1266.6 403.6,1271.8"/>
<polyline points="421.8,1261.4 416.6,1266.6 421.8,1271.8"/>
<polyline points="436.8,1261.4 431.6,1266.6 436.8,1271.8"/>
<polyline points="455.0,1261.4 449.8,1266.6 455.0,1271.8"/>
<polyline points="473.2,1261.4 468.0,1266.6 473.2,1271.8"/>
<polyline points="491.4,1261.4 486.2,1266.6 491.4,1271.8"/>
<polyline points="509.7,1261.4 504.5,1266.6 509.7,1271.8"/>
<polyline points="527.7,1261.4 522.5,1266.6 527.7,1271.8"/>
<polyline points="545.8,1261.4 540.6,1266.6 545.8,1271.8"/>
<polyline points="564.0,1261.4 558.8,1266.6 564.0,1271.8"/>
<polyline points="581.5,1261.4 576.3,1266.6 581.5,1271.8"/>
<polyline points="599.3,1261.4 594.1,1266.6 599.3,1271.8"/>
<polyline points="617.5,1261.4 612.3,1266.6 617.5,1271.8"/>
<polyline points="634.7,1261.4 629.5,1266.6 634.7,1271.8"/>
<polyline points="652.9,1261.4 647.7,1266.6 652.9,1271.8"/>
<polyline points="670.0,1261.4 664.8,1266.6 670.0,1271.8"/>
<polyline points="688.2,1261.4 683.0,1266.6 688.2,1271.8"/>
<polyline points="706.5,1261.4 701.3,1266.6 706.5,1271.8"/>
<polyline points="722.5,1261.4 717.3,1266.6 722.5,1271.8"/>
<polyline points="740.7,1261.4 735.5,1266.6 740.7,1271.8"/>
<polyline points="759.0,1261.4 753.8,1266.6 759.0,1271.8"/>
<polyline points="777.2,1261.4 772.0,1266.6 777.2,1271.8"/>
<polyline points="795.4,1261.4 790.2,1266.6 795.4,1271.8"/>
<polyline points="813.6,1261.4 808.4,1266.6 813.6,1271.8"/>
<polyline points="830.0,1261.4 824.8,1266.6 830.0,1271.8"/>
<polyline points="848.0,1261.4 842.8,1266.6 848.0,1271.8"/>
<polyline points="865.8,1261.4 860.6,1266.6 865.8,1271.8"/>
<polyline points="883.5,1261.4 878.3,1266.6 883.5,1271.8"/>
<polyline points="901.5,1261.4 896.3,1266.6 901.5,1271.8"/>
<polyline points="919.3,1261.4 914.1,1266.6 919.3,1271.8"/>
<polyline points="937.1,1261.4 931.9,1266.6 937.1,1271.8"/>
<polyline points="954.7,1261.4 949.5,1266.6 954.7,1271.8"/>
<polyline points="972.9,1261.4 967.7,1266.6 972.9,1271.8"/>
<polyline points="990.7,1261.4 985.5,1266.6 990.7,1271.8"/>
<polyline points="1008.3,1261.4 1003.1,1266.6 1008.3,1271.8"/>
<polyline points="1026.5,1261.4 1021.3,1266.6 1026.5,1271.8"/>
<polyline points="1044.3,1261.4 1039.1,1266.6 1044.3,1271.8"/>
<polyline points="1061.8,1261.4 1056.6,1266.6 1061.8,1271.8"/>
<polyline points="1079.4,1261.4 1074.2,1266.6 1079.4,1271.8"/>
<polyline points="1117.8,1261.4 1112.6,1266.6 1117.8,1271.8"/>
</g>
<g fill="#00008B" stroke="none">
<rect x="238.1" y="1257.9" width="36.5" height="17.3"/>
<circle cx="238.6" cy="1266.6" r="1.6"/>
<rect x="375.4" y="1257.9" width="1.8" height="17.3"/>
<rect x="421.9" y="1257.9" width="3.9" height="17.3"/>
<rect x="534.9" y="1257.9" width="1.0" height="17.3"/>
<rect x="613.5" y="1257.9" width="2.8" height="17.3"/>
<rect x="645.4" y="1257.9" width="2.8" height="17.3"/>
<rect x="713.4" y="1257.9" width="1.0" height="17.3"/>
<rect x="956.0" y="1257.9" width="1.6" height="17.3"/>
<rect x="1082.0" y="1257.9" width="3.3" height="17.3"/>
</g>
<text class="mono" x="661.9" y="1223.8" font-size="20.6" fill="#000" stroke="#000" stroke-width="0.3" text-anchor="middle" textLength="69.3" lengthAdjust="spacingAndGlyphs">Pggt1b</text>
<text class="mono" x="1119.3" y="1223.9" font-size="20.6" fill="#000" stroke="#000" stroke-width="0.3" text-anchor="middle" textLength="84.6" lengthAdjust="spacingAndGlyphs">Ccdc112</text>
<text x="1218.5" y="460" font-size="30.6" fill="#000" textLength="40.5" lengthAdjust="spacingAndGlyphs">bw</text>
<rect x="1218.9" y="480.1" width="43.9" height="44" fill="#001ECC"/>
<text x="1279.9" y="510.8" font-size="25.0" fill="#000" stroke="#000" stroke-width="0.3" textLength="73.0" lengthAdjust="spacingAndGlyphs">E14_1</text>
<rect x="1218.9" y="528.1" width="43.9" height="44" fill="#001ECC"/>
<text x="1279.9" y="558.8" font-size="25.0" fill="#000" stroke="#000" stroke-width="0.3" textLength="73.0" lengthAdjust="spacingAndGlyphs">E14_2</text>
<rect x="1218.9" y="576.1" width="43.9" height="44" fill="#E87306"/>
<text x="1279.9" y="606.8" font-size="25.0" fill="#000" stroke="#000" stroke-width="0.3" textLength="73.0" lengthAdjust="spacingAndGlyphs">E17_1</text>
<rect x="1218.9" y="624.1" width="43.9" height="44" fill="#E87306"/>
<text x="1279.9" y="654.8" font-size="25.0" fill="#000" stroke="#000" stroke-width="0.3" textLength="73.0" lengthAdjust="spacingAndGlyphs">E17_2</text>
<rect x="1218.9" y="672.1" width="43.9" height="44" fill="#000000"/>
<text x="1279.9" y="702.8" font-size="25.0" fill="#000" stroke="#000" stroke-width="0.3" textLength="63.8" lengthAdjust="spacingAndGlyphs">Input</text>
</svg>
</body></html>
